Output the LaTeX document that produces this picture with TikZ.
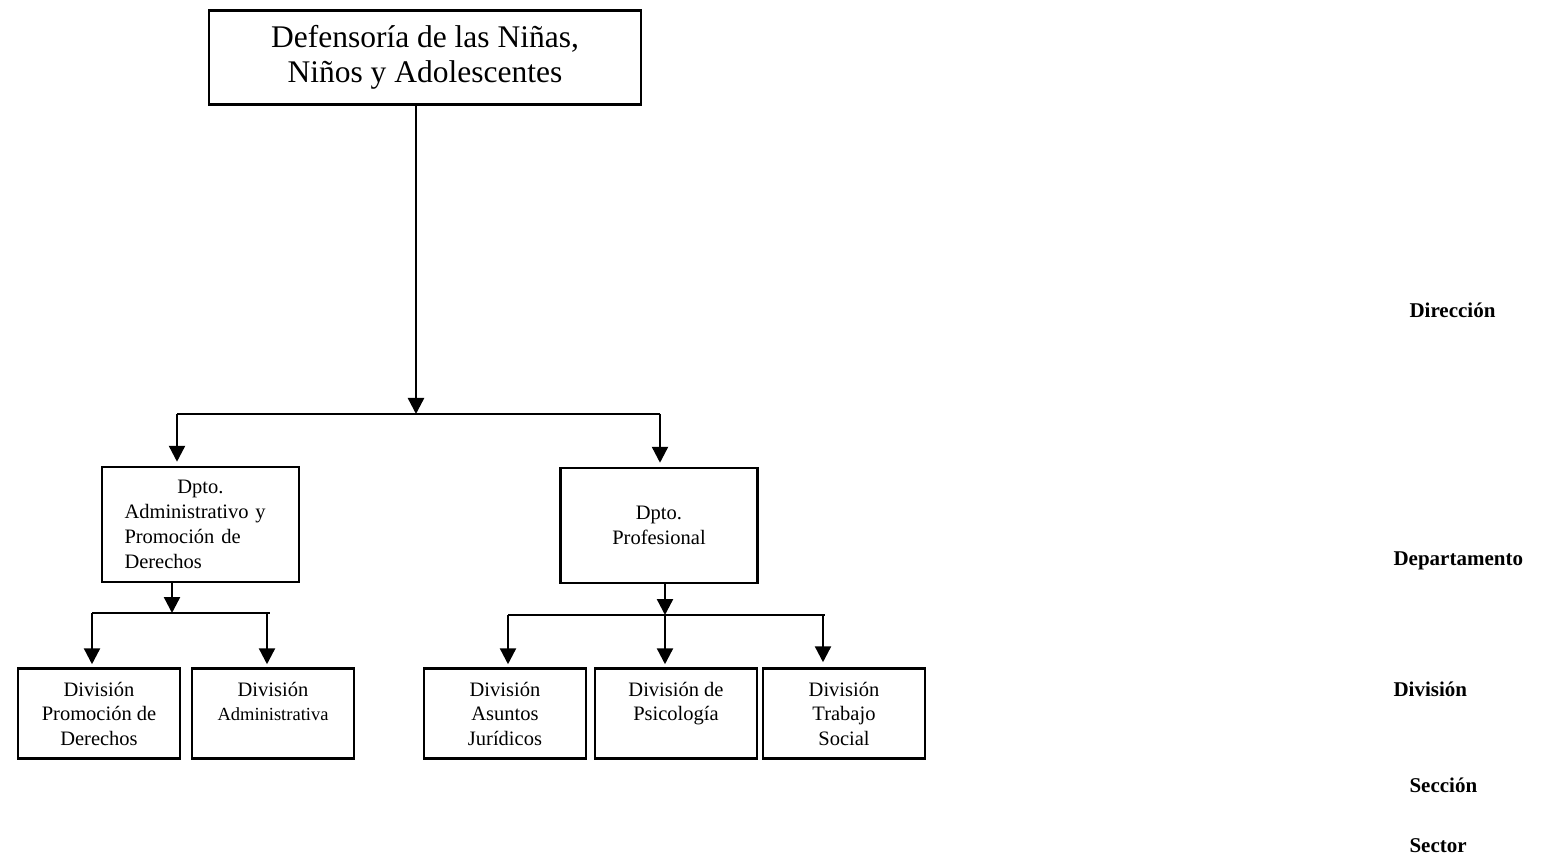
\documentclass[tikz,border=0pt]{standalone}
\usepackage{fontspec}
\setmainfont{Liberation Serif}
\usetikzlibrary{arrows.meta, positioning, calc}

\tikzset{
  unitbox/.style={draw, line width=2.5pt, align=center, inner sep=0pt},
  divbox/.style={unitbox, minimum width=162pt, minimum height=90pt, font=\fontsize{20.5}{24.5}\selectfont},
  dptobox/.style={unitbox, minimum width=197pt, minimum height=115pt, font=\fontsize{20.5}{25}\selectfont},
  levellabel/.style={anchor=west, font=\fontsize{21}{24}\selectfont\bfseries},
}

\begin{document}
\begin{tikzpicture}[x=1pt, y=-1pt, >={Triangle[length=16pt, width=16pt]}, line width=2.4pt]
    \useasboundingbox (0,0) rectangle (1545,858);

    \node[unitbox, minimum width=432pt, minimum height=94pt, font=\fontsize{31.5}{35}\selectfont] (defensoria) at (425,57.5) {Defensoría de las Niñas,\\Niños y Adolescentes};

    \node[dptobox, text width=152pt, align=left] (dptoAdm) at (200.5,524.5) {\makebox[152pt]{Dpto.}\\Administrativo y\\Promoción de\\Derechos};
    \node[dptobox] (dptoProf) at (659,525.5) {Dpto.\\Profesional};

    \node[divbox] (divPromocion) at (99,713.5) {División\\Promoción de\\Derechos};
    \node[divbox] (divAdmin) at (273,713.5) {División\\{\fontsize{18.5}{24.5}\selectfont Administrativa}\\\mbox{}};
    \node[divbox] (divJuridicos) at (505,713.5) {División\\Asuntos\\Jurídicos};
    \node[divbox] (divPsicologia) at (676,713.5) {División de\\Psicología\\\mbox{}};
    \node[divbox] (divSocial) at (844,713.5) {División\\Trabajo\\Social};

    \node[levellabel] (lvDireccion) at (1405,310) {Dirección};
    \node[levellabel] (lvDepartamento) at (1389,561) {Departamento};
    \node[levellabel] (lvDivision) at (1389,689) {División};
    \node[levellabel] (lvSeccion) at (1405,785) {Sección};
    \node[levellabel] (lvSector) at (1405,846) {Sector};

    \coordinate (jTop) at (416,414);
    \coordinate (jTopL) at (177,414);
    \coordinate (jTopR) at (660,414);
    \draw[->] (jTop |- defensoria.south) -- (jTop);
    \draw (jTopL) -- (jTopR);
    \draw[->] (jTopL) -- ([yshift=4pt]jTopL |- dptoAdm.north);
    \draw[->] (jTopR) -- ([yshift=4pt]jTopR |- dptoProf.north);

    \coordinate (jAdm) at (172,613);
    \coordinate (jAdmL) at (92,613);
    \coordinate (jAdmR) at (270,613);
    \draw[->] (jAdm |- dptoAdm.south) -- (jAdm);
    \draw (jAdmL) -- (jAdmR);
    \draw[->] (jAdmL) -- ([yshift=3pt]jAdmL |- divPromocion.north);
    \draw[->] ([xshift=-3pt]jAdmR) -- ([shift={(-3pt,3pt)}]jAdmR |- divAdmin.north);

    \coordinate (jProf) at (665,615);
    \coordinate (jProfL) at (508,615);
    \coordinate (jProfR) at (825,615);
    \draw[->] (jProf |- dptoProf.south) -- (jProf);
    \draw (jProfL) -- (jProfR);
    \draw[->] (jProfL) -- ([yshift=3pt]jProfL |- divJuridicos.north);
    \draw[->] (jProf) -- ([yshift=3pt]jProf |- divPsicologia.north);
    \draw[->] ([xshift=-2pt]jProfR) -- ([shift={(-2pt,5pt)}]jProfR |- divSocial.north);
\end{tikzpicture}
\end{document}
